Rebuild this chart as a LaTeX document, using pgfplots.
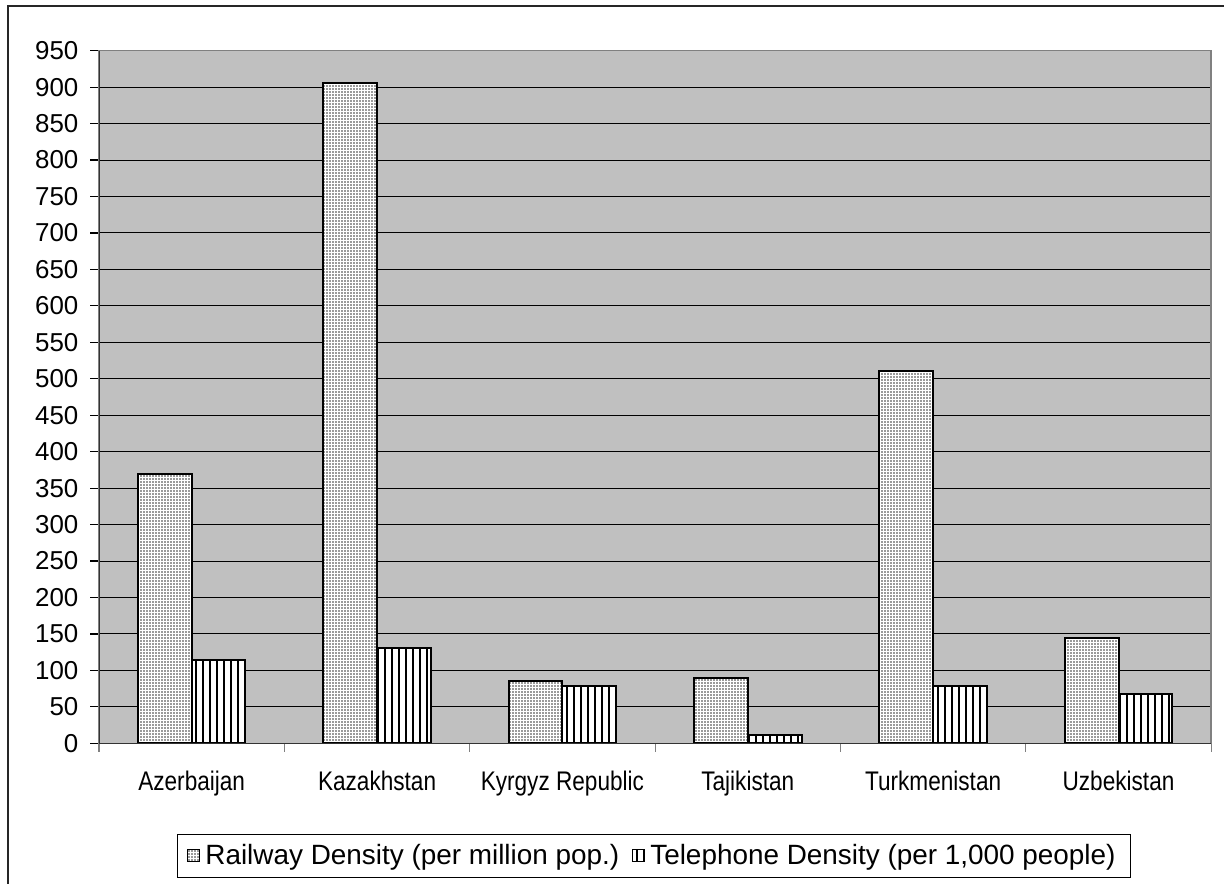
\documentclass[border=0pt]{standalone}
\usepackage{fontspec}
\setmainfont{Liberation Sans}
\newfontfamily\narrowfont[FakeStretch=0.84]{Liberation Sans}
\usepackage{pgfplots}
\pgfplotsset{compat=1.18}
\usetikzlibrary{patterns.meta}
\definecolor{plotbg}{HTML}{C0C0C0}
\begin{document}
\begin{tikzpicture}
\path[use as bounding box] (0,0) rectangle (612bp,442bp);
\draw[line width=0.8bp, black!85] (4bp,-5bp) -- (4bp,439bp) -- (620bp,439bp);
\begin{axis}[
  at={(49.5bp,70.35bp)}, anchor=south west,
  scale only axis, width=556.1bp, height=346.3bp,
  xmin=-0.5, xmax=5.5, ymin=0, ymax=950,
  ytick={0,50,...,950},
  ymajorgrids, grid style={black, line width=0.5bp},
  xtick={-0.5,0.5,...,5.5},
  x tick label as interval,
  xticklabels={Azerbaijan,Kazakhstan,Kyrgyz Republic,Tajikistan,Turkmenistan,Uzbekistan},
  tick align=outside, tick pos=left,
  major tick length=4.3bp,
  xtick style={draw=gray, line width=0.6bp},
  ytick style={draw=black, line width=0.6bp},
  axis background/.style={fill=plotbg},
  axis line style={draw=gray, line width=0.8bp},
  /pgf/number format/assume math mode=true,
  yticklabel style={font=\fontsize{13}{15}\selectfont, anchor=east, xshift=-2.5bp},
  xticklabel style={font=\narrowfont\fontsize{13.5}{15}\selectfont, yshift=-6bp},
  legend style={at={(0.499,-0.1627)}, anchor=center, legend columns=2, draw=black, line width=0.6bp, fill=white,
    font=\fontsize{14}{16}\selectfont, inner xsep=5bp, inner ysep=3bp,
    /tikz/every odd column/.append style={column sep=0bp},
    /tikz/every even column/.append style={column sep=4bp},
    nodes={inner xsep=2.5bp}},
  legend image code/.code={\draw[#1, line width=0.5bp] (0bp,-3bp) rectangle (6bp,3bp);},
]
\addplot[ybar, bar width=0.29, bar shift=-0.145, draw=black, line width=1bp, fill=white,
  postaction={pattern={Dots[distance=1.5bp, radius=0.42bp]}, pattern color=black!80}]
  coordinates {(0,369) (1,906) (2,85) (3,90) (4,511) (5,145)};
\addlegendentry{Railway Density (per million pop.)}
\addplot[ybar, bar width=0.29, bar shift=0.145, draw=black, line width=1bp, fill=white,
  postaction={pattern={Lines[angle=90, distance=3.5bp, line width=0.75bp]}, pattern color=black}]
  coordinates {(0,114) (1,131) (2,79) (3,12) (4,79) (5,67)};
\addlegendentry{Telephone Density (per 1,000 people)}
\draw[black!80, line width=0.8bp] (rel axis cs:0,1) -- (rel axis cs:0,0) -- (rel axis cs:1,0);
\end{axis}
\end{tikzpicture}
\end{document}
